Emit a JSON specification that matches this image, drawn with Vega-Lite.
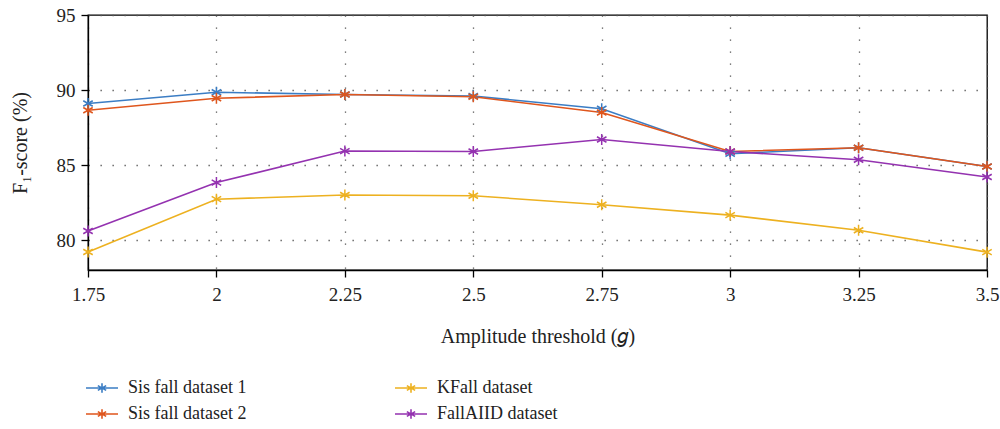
{
  "$schema": "https://vega.github.io/schema/vega-lite/v6.json",
  "width": 899,
  "height": 255,
  "autosize": {"type": "none"},
  "padding": {"left": 88, "top": 15, "right": 13, "bottom": 159},
  "background": "white",
  "config": {
    "font": "Liberation Serif",
    "view": {"stroke": "black", "strokeWidth": 1.3},
    "axis": {
      "domainColor": "black",
      "domainWidth": 1.3,
      "tickColor": "black",
      "tickWidth": 1.3,
      "tickSize": 7,
      "labelFont": "Liberation Serif",
      "labelFontSize": 19,
      "labelColor": "#222",
      "titleFont": "Liberation Serif",
      "titleFontSize": 20,
      "titleFontWeight": "normal",
      "titleColor": "#222",
      "gridColor": "#555",
      "gridWidth": 1.3,
      "gridDash": [1.3, 10.7]
    },
    "legend": {
      "labelFont": "Liberation Serif",
      "labelFontSize": 18,
      "labelColor": "#222"
    }
  },
  "data": {
    "values": [
      {"x": 1.75, "series": "Sis fall dataset 1", "f1": 89.1},
      {"x": 2.0, "series": "Sis fall dataset 1", "f1": 89.85},
      {"x": 2.25, "series": "Sis fall dataset 1", "f1": 89.7},
      {"x": 2.5, "series": "Sis fall dataset 1", "f1": 89.6},
      {"x": 2.75, "series": "Sis fall dataset 1", "f1": 88.75},
      {"x": 3.0, "series": "Sis fall dataset 1", "f1": 85.75},
      {"x": 3.25, "series": "Sis fall dataset 1", "f1": 86.15},
      {"x": 3.5, "series": "Sis fall dataset 1", "f1": 84.9},
      {"x": 1.75, "series": "Sis fall dataset 2", "f1": 88.65},
      {"x": 2.0, "series": "Sis fall dataset 2", "f1": 89.45},
      {"x": 2.25, "series": "Sis fall dataset 2", "f1": 89.7},
      {"x": 2.5, "series": "Sis fall dataset 2", "f1": 89.55},
      {"x": 2.75, "series": "Sis fall dataset 2", "f1": 88.5},
      {"x": 3.0, "series": "Sis fall dataset 2", "f1": 85.9},
      {"x": 3.25, "series": "Sis fall dataset 2", "f1": 86.15},
      {"x": 3.5, "series": "Sis fall dataset 2", "f1": 84.9},
      {"x": 1.75, "series": "KFall dataset", "f1": 79.2},
      {"x": 2.0, "series": "KFall dataset", "f1": 82.72},
      {"x": 2.25, "series": "KFall dataset", "f1": 83.0},
      {"x": 2.5, "series": "KFall dataset", "f1": 82.95},
      {"x": 2.75, "series": "KFall dataset", "f1": 82.35},
      {"x": 3.0, "series": "KFall dataset", "f1": 81.66},
      {"x": 3.25, "series": "KFall dataset", "f1": 80.65},
      {"x": 3.5, "series": "KFall dataset", "f1": 79.19},
      {"x": 1.75, "series": "FallAIID dataset", "f1": 80.6},
      {"x": 2.0, "series": "FallAIID dataset", "f1": 83.83},
      {"x": 2.25, "series": "FallAIID dataset", "f1": 85.93},
      {"x": 2.5, "series": "FallAIID dataset", "f1": 85.9},
      {"x": 2.75, "series": "FallAIID dataset", "f1": 86.7},
      {"x": 3.0, "series": "FallAIID dataset", "f1": 85.9},
      {"x": 3.25, "series": "FallAIID dataset", "f1": 85.35},
      {"x": 3.5, "series": "FallAIID dataset", "f1": 84.2}
    ]
  },
  "encoding": {
    "x": {
      "field": "x",
      "type": "quantitative",
      "scale": {"domain": [1.75, 3.5], "nice": false, "zero": false},
      "axis": {
        "values": [1.75, 2, 2.25, 2.5, 2.75, 3, 3.25, 3.5],
        "labelExpr": "'' + datum.value",
        "title": "Amplitude threshold (𝑔)",
        "labelPadding": 8,
        "titlePadding": 22,
        "labelFlush": false
      }
    },
    "y": {
      "field": "f1",
      "type": "quantitative",
      "scale": {"domain": [78, 95], "nice": false, "zero": false},
      "axis": {
        "values": [80, 85, 90, 95],
        "title": "F₁-score (%)",
        "labelPadding": 6,
        "titlePadding": 26
      }
    },
    "color": {
      "field": "series",
      "type": "nominal",
      "scale": {
        "domain": ["Sis fall dataset 1", "Sis fall dataset 2", "KFall dataset", "FallAIID dataset"],
        "range": ["#3B7DC4", "#DF561D", "#EDB120", "#9432B0"]
      },
      "legend": {
        "title": null,
        "orient": "none",
        "legendX": -3,
        "legendY": 356,
        "direction": "vertical",
        "columns": 2,
        "columnPadding": 144,
        "rowPadding": -4,
        "labelOffset": 9,
        "symbolType": "M-1,0L1,0M0,-0.3L0,0.3M-0.26,-0.15L0.26,0.15M-0.26,0.15L0.26,-0.15",
        "symbolSize": 1024,
        "symbolStrokeWidth": 1.6,
        "padding": 0
      }
    }
  },
  "layer": [
    {
      "mark": {"type": "line", "strokeWidth": 1.6}
    },
    {
      "mark": {
        "type": "point",
        "shape": "M0,-1L0,1M-0.866,-0.5L0.866,0.5M-0.866,0.5L0.866,-0.5",
        "size": 120,
        "filled": false,
        "strokeWidth": 1.5,
        "opacity": 1
      }
    }
  ]
}
